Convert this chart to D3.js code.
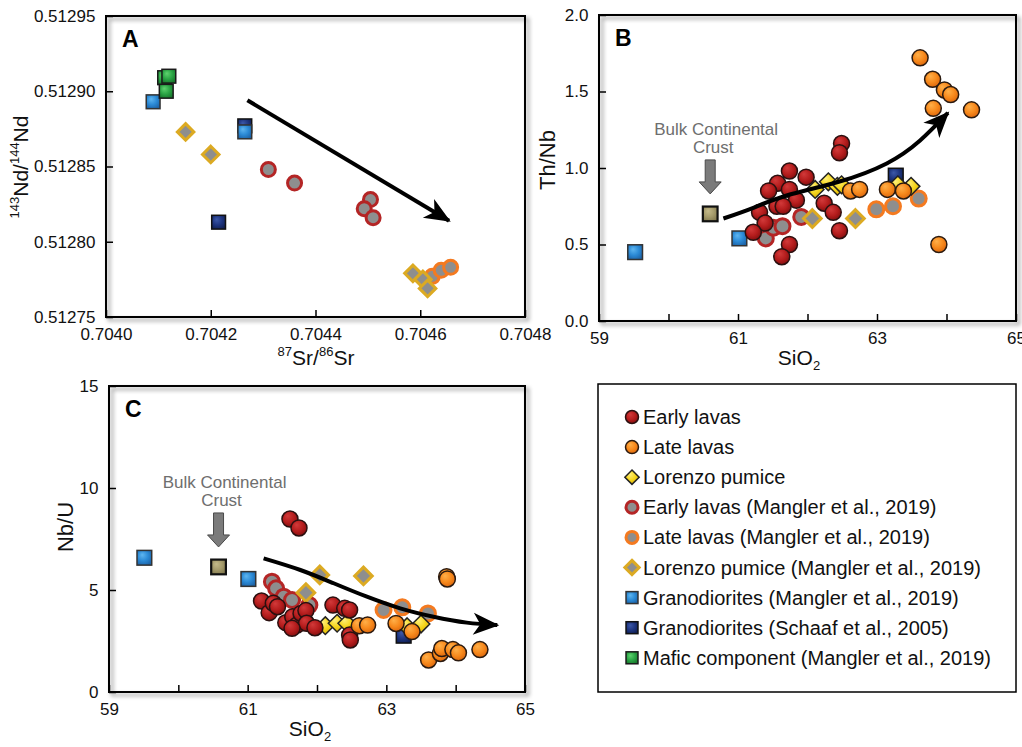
<!DOCTYPE html>
<html>
<head>
<meta charset="utf-8">
<script src="https://cdn.jsdelivr.net/npm/d3@7.9.0/dist/d3.min.js"></script>
<style>
  body { margin: 0; background: #fff; }
  svg { font-family: "Liberation Sans", Arial, sans-serif; }
</style>
</head>
<body>
<svg id="chart" width="1022" height="747"></svg>
<script>
// ---- panel A: 87Sr/86Sr vs 143Nd/144Nd ----
const aEarlyM = [[0.70431, 0.512848], [0.70436, 0.512839], [0.704505, 0.512828], [0.704493, 0.512822], [0.70451, 0.512816]];
const aLateM = [[0.704623, 0.512777], [0.70464, 0.512781], [0.704658, 0.512783]];
const aLorenzoM = [[0.704152, 0.512873], [0.7042, 0.512858], [0.704586, 0.512779], [0.704605, 0.512775], [0.704614, 0.512769]];
const aGranoM = [[0.70409, 0.512893], [0.704265, 0.512873]];
const aGranoS = [[0.704265, 0.512877], [0.704215, 0.512813]];
const aMafic = [[0.704112, 0.512909], [0.70412, 0.51291], [0.704115, 0.5129]];
const aArrow = [[0.70427, 0.512894], [0.704655, 0.512814]];
const aXTicks = [0.7040, 0.7042, 0.7044, 0.7046, 0.7048];
const aYTicks = [0.51275, 0.51280, 0.51285, 0.51290, 0.51295];

// ---- panel B: SiO2 vs Th/Nb ----
const bEarly = [[61.74, 0.98], [61.98, 0.94], [61.57, 0.90], [61.44, 0.85], [61.74, 0.86], [61.84, 0.79],
  [61.56, 0.75], [61.65, 0.75], [61.31, 0.71], [61.39, 0.64], [61.22, 0.58], [61.74, 0.50], [61.63, 0.42],
  [62.24, 0.77], [62.37, 0.71], [62.46, 0.59], [62.49, 1.16], [62.46, 1.10]];
const bLate = [[63.62, 1.72], [63.80, 1.58], [63.97, 1.51], [64.06, 1.48], [63.81, 1.39], [64.36, 1.38],
  [63.89, 0.50], [62.62, 0.85], [62.75, 0.86], [63.15, 0.86], [63.38, 0.85]];
const bLorenzo = [[62.11, 0.86], [62.30, 0.91], [62.43, 0.88], [62.49, 0.89], [63.30, 0.89], [63.49, 0.88]];
const bEarlyM = [[61.39, 0.57], [61.40, 0.54], [61.51, 0.61], [61.64, 0.62], [61.91, 0.68]];
const bLateM = [[62.99, 0.73], [63.23, 0.75], [63.60, 0.80]];
const bLorenzoM = [[62.07, 0.67], [62.69, 0.67]];
const bGranoM = [[59.52, 0.45], [61.02, 0.54]];
const bGranoS = [[63.27, 0.95]];
const bCrust = [[60.60, 0.70]];
const bArrow = [[60.79, 0.67], [61.22, 0.74], [61.70, 0.82], [62.45, 0.91], [63.14, 1.03], [63.62, 1.18], [64.02, 1.36]];
const bXTicks = [59, 60, 61, 62, 63, 64, 65];
const bXLabels = [59, 61, 63, 65];
const bYTicks = [0.0, 0.5, 1.0, 1.5, 2.0];

// ---- panel C: SiO2 vs Nb/U ----
const cEarly = [[61.61, 8.48], [61.74, 8.04], [61.20, 4.46], [61.31, 3.89], [61.37, 4.35], [61.43, 4.18],
  [61.55, 3.40], [61.65, 3.69], [61.71, 3.28], [61.77, 3.85], [61.84, 3.99], [61.85, 3.37], [61.97, 3.15],
  [62.23, 4.26], [62.40, 4.10], [62.47, 4.02], [62.47, 2.79], [62.48, 2.55], [61.64, 3.12]];
const cLate = [[63.87, 5.65], [63.88, 5.54], [62.61, 3.25], [62.73, 3.28], [63.14, 3.36], [63.37, 2.96],
  [63.61, 1.57], [63.78, 1.89], [63.80, 2.13], [63.96, 2.08], [64.04, 1.92], [64.35, 2.08]];
const cLorenzo = [[62.12, 3.25], [62.29, 3.37], [62.43, 3.37], [63.30, 3.20], [63.50, 3.33]];
const cEarlyM = [[61.35, 5.41], [61.41, 5.08], [61.52, 4.67], [61.64, 4.51], [61.89, 4.26]];
const cLateM = [[62.96, 4.02], [63.23, 4.15], [63.60, 3.85]];
const cLorenzoM = [[62.04, 5.74], [62.67, 5.69], [61.84, 4.87]];
const cGranoM = [[59.51, 6.58], [61.01, 5.54]];
const cGranoS = [[63.25, 2.76]];
const cCrust = [[60.58, 6.13]];
const cArrow = [[61.23, 6.55], [61.76, 5.98], [62.24, 5.33], [62.72, 4.67], [63.20, 4.10], [63.68, 3.69], [64.16, 3.40], [64.6, 3.28]];
const cXTicks = [59, 60, 61, 62, 63, 64, 65];
const cXLabels = [59, 61, 63, 65];
const cYTicks = [0, 5, 10, 15];

// ---- legend ----
const legendLabels = ['Early lavas', 'Late lavas', 'Lorenzo pumice', 'Early lavas (Mangler et al., 2019)',
  'Late lavas (Mangler et al., 2019)', 'Lorenzo pumice (Mangler et al., 2019)',
  'Granodiorites (Mangler et al., 2019)', 'Granodiorites (Schaaf et al., 2005)',
  'Mafic component (Mangler et al., 2019)'];
const legendKeys = ['early', 'late', 'lorenzo', 'earlyM', 'lateM', 'lorenzoM', 'granoM', 'granoS', 'mafic'];

const svg = d3.select('#chart');
const defs = svg.append('defs');

function radial(id, light, mid, dark) {
  const g = defs.append('radialGradient').attr('id', id)
    .attr('cx', '45%').attr('cy', '40%').attr('r', '65%').attr('fx', '35%').attr('fy', '30%');
  g.append('stop').attr('offset', '0%').attr('stop-color', light);
  g.append('stop').attr('offset', '55%').attr('stop-color', mid);
  g.append('stop').attr('offset', '100%').attr('stop-color', dark);
}
radial('gEarly', '#d23a3a', '#b51d1d', '#7d0d0d');
radial('gLate', '#ffb04a', '#f7891c', '#d9630c');
radial('gLorenzo', '#fff07a', '#f5d41a', '#d6ac06');
radial('gGranoM', '#5fb6f0', '#2b8ad6', '#1d64a8');
radial('gGranoS', '#3c58a8', '#1e3580', '#101f52');
radial('gMafic', '#5fd26f', '#2ba545', '#17772c');
radial('gCrust', '#c4ba8a', '#a59b6b', '#837a4f');

const shadow = defs.append('filter').attr('id', 'shadow')
  .attr('x', '-5%').attr('y', '-5%').attr('width', '115%').attr('height', '115%');
shadow.append('feDropShadow').attr('dx', 3).attr('dy', 3).attr('stdDeviation', 2)
  .attr('flood-color', '#000').attr('flood-opacity', 0.45);

const head = defs.append('marker').attr('id', 'head')
  .attr('markerUnits', 'userSpaceOnUse').attr('markerWidth', 30).attr('markerHeight', 30)
  .attr('viewBox', '-26 -13 30 26').attr('refX', 0).attr('refY', 0).attr('orient', 'auto');
head.append('path').attr('d', 'M2,0 L-24,-11 L-17,0 L-24,11 Z').attr('fill', '#000');

const styles = {
  early: { shape: 'circle', fill: 'url(#gEarly)', stroke: '#2a1010', sw: 1.5 },
  late: { shape: 'circle', fill: 'url(#gLate)', stroke: '#2a1a10', sw: 1.5 },
  lorenzo: { shape: 'diamond', fill: 'url(#gLorenzo)', stroke: '#222', sw: 1.5 },
  earlyM: { shape: 'circle', fill: '#8e8e8e', stroke: '#b42525', sw: 3 },
  lateM: { shape: 'circle', fill: '#8e8e8e', stroke: '#f47a20', sw: 3 },
  lorenzoM: { shape: 'diamond', fill: '#8e8e8e', stroke: '#dcaa22', sw: 3 },
  granoM: { shape: 'square', fill: 'url(#gGranoM)', stroke: '#333', sw: 1.5 },
  granoS: { shape: 'square', fill: 'url(#gGranoS)', stroke: '#111', sw: 1.5 },
  mafic: { shape: 'square', fill: 'url(#gMafic)', stroke: '#1a1a1a', sw: 1.5 },
  crust: { shape: 'square', fill: 'url(#gCrust)', stroke: '#111', sw: 2.2 }
};

function drawMark(g, cx, cy, key, size) {
  const s = styles[key];
  let el;
  if (s.shape === 'circle') {
    el = g.append('circle').attr('cx', cx).attr('cy', cy).attr('r', size / 2 - (s.sw > 2 ? 0.5 : 0));
  } else if (s.shape === 'square') {
    const w = size * 0.92;
    el = g.append('rect').attr('x', cx - w / 2).attr('y', cy - w / 2).attr('width', w).attr('height', w);
  } else {
    const h = size * 0.55;
    el = g.append('path').attr('d', `M${cx},${cy - h} L${cx + h},${cy} L${cx},${cy + h} L${cx - h},${cy} Z`);
  }
  el.attr('fill', s.fill).attr('stroke', s.stroke).attr('stroke-width', s.sw);
}

function supText(g, x, y, parts, size, anchor, rotate) {
  const t = g.append('text').attr('x', x).attr('y', y).attr('font-size', size)
    .attr('text-anchor', anchor).attr('fill', '#111');
  if (rotate) t.attr('transform', `rotate(-90,${x},${y})`);
  parts.forEach(([txt, kind]) => {
    const sp = t.append('tspan').text(txt);
    if (kind === 'sup') sp.attr('font-size', size * 0.62).attr('dy', -size * 0.42);
    else if (kind === 'sub') sp.attr('font-size', size * 0.62).attr('dy', size * 0.25);
    else if (kind === 'up') sp.attr('dy', size * 0.42);
    else if (kind === 'down') sp.attr('dy', -size * 0.25);
  });
  return t;
}

function panel(cfg) {
  const x = d3.scaleLinear().domain(cfg.xDomain).range([cfg.left, cfg.right]);
  const y = d3.scaleLinear().domain(cfg.yDomain).range([cfg.bottom, cfg.top]);
  const g = svg.append('g');

  g.append('rect').attr('x', cfg.left).attr('y', cfg.top)
    .attr('width', cfg.right - cfg.left).attr('height', cfg.bottom - cfg.top)
    .attr('fill', 'none').attr('stroke', '#000').attr('stroke-width', 2).attr('filter', 'url(#shadow)');

  const xAxis = d3.axisBottom(x).tickValues(cfg.xTicks).tickSize(-7)
    .tickFormat(d => cfg.xLabels.includes(d) ? cfg.xFmt(d) : '');
  const gx = g.append('g').attr('transform', `translate(0,${cfg.bottom})`).call(xAxis);
  const yAxis = d3.axisLeft(y).tickValues(cfg.yTicks).tickSize(-7).tickFormat(cfg.yFmt);
  const gy = g.append('g').attr('transform', `translate(${cfg.left},0)`).call(yAxis);
  [gx, gy].forEach(a => {
    a.select('.domain').remove();
    a.selectAll('line').attr('stroke', '#000').attr('stroke-width', 1.5);
    a.selectAll('text').attr('font-size', 17).attr('fill', '#111').attr('font-family', '"Liberation Sans", Arial, sans-serif');
  });
  gx.selectAll('text').attr('dy', '1.15em');
  gy.selectAll('text').attr('dx', '-0.45em');

  g.append('text').attr('x', cfg.left + 16).attr('y', cfg.top + 31).text(cfg.letter)
    .attr('font-size', 23).attr('font-weight', 'bold').attr('fill', '#000');

  const marks = g.append('g');
  cfg.series.forEach(([key, data]) => {
    data.forEach(d => drawMark(marks, x(d[0]), y(d[1]), key, cfg.markSize));
  });

  const line = d3.line().x(d => x(d[0])).y(d => y(d[1]))
    .curve(cfg.arrow.length > 2 ? d3.curveNatural : d3.curveLinear);
  g.append('path').attr('d', line(cfg.arrow)).attr('fill', 'none')
    .attr('stroke', '#000').attr('stroke-width', 4).attr('marker-end', 'url(#head)');

  if (cfg.crust) {
    const cx = x(cfg.crust[0][0]), cy = y(cfg.crust[0][1]);
    const lab = g.append('text').attr('fill', '#6e6e6e').attr('font-size', 17).attr('text-anchor', 'middle');
    lab.append('tspan').attr('x', cx + 6).attr('y', cy - 79).text('Bulk Continental');
    lab.append('tspan').attr('x', cx + 3).attr('y', cy - 61).text('Crust');
    const t = cy - 54, b = cy - 20;
    g.append('path')
      .attr('d', `M${cx - 5},${t} L${cx + 5},${t} L${cx + 5},${b - 12} L${cx + 11},${b - 12} L${cx},${b} L${cx - 11},${b - 12} L${cx - 5},${b - 12} Z`)
      .attr('fill', '#7b7b7b').attr('stroke', '#4a4a4a').attr('stroke-width', 1);
  }
  return g;
}

const fmtA = d3.format('.4f');
panel({
  left: 106, right: 525, top: 16, bottom: 317, letter: 'A',
  xDomain: [0.7040, 0.7048], yDomain: [0.51275, 0.51295],
  xTicks: aXTicks, xLabels: aXTicks, yTicks: aYTicks,
  xFmt: fmtA, yFmt: d3.format('.5f'), markSize: 15,
  series: [['earlyM', aEarlyM], ['lateM', aLateM], ['lorenzoM', aLorenzoM], ['granoS', aGranoS],
    ['granoM', aGranoM], ['mafic', aMafic]],
  arrow: aArrow
});
panel({
  left: 599, right: 1016, top: 15, bottom: 321, letter: 'B',
  xDomain: [59, 65], yDomain: [0, 2],
  xTicks: bXTicks, xLabels: bXLabels, yTicks: bYTicks,
  xFmt: d3.format('d'), yFmt: d3.format('.1f'), markSize: 16,
  series: [['earlyM', bEarlyM], ['lateM', bLateM], ['lorenzoM', bLorenzoM], ['granoM', bGranoM],
    ['granoS', bGranoS], ['crust', bCrust], ['lorenzo', bLorenzo], ['early', bEarly], ['late', bLate]],
  arrow: bArrow, crust: bCrust
});
panel({
  left: 109, right: 525, top: 386, bottom: 692, letter: 'C',
  xDomain: [59, 65], yDomain: [0, 15],
  xTicks: cXTicks, xLabels: cXLabels, yTicks: cYTicks,
  xFmt: d3.format('d'), yFmt: d3.format('d'), markSize: 16,
  series: [['earlyM', cEarlyM], ['lateM', cLateM], ['lorenzoM', cLorenzoM], ['granoM', cGranoM],
    ['granoS', cGranoS], ['crust', cCrust], ['lorenzo', cLorenzo], ['early', cEarly], ['late', cLate]],
  arrow: cArrow, crust: cCrust
});

// axis titles
const titles = svg.append('g');
supText(titles, 28, 167, [['143', 'sup'], ['Nd/', 'up'], ['144', 'sup'], ['Nd', 'up']], 21, 'middle', true);
supText(titles, 316, 365, [['87', 'sup'], ['Sr/', 'up'], ['86', 'sup'], ['Sr', 'up']], 21, 'middle', false);
supText(titles, 555, 160, [['Th/Nb', '']], 22, 'middle', true);
supText(titles, 799, 365, [['SiO', ''], ['2', 'sub']], 21, 'middle', false);
supText(titles, 73, 527, [['Nb/U', '']], 22, 'middle', true);
supText(titles, 310, 736, [['SiO', ''], ['2', 'sub']], 21, 'middle', false);

// legend
const leg = svg.append('g');
leg.append('rect').attr('x', 598).attr('y', 384).attr('width', 418).attr('height', 308)
  .attr('fill', '#fff').attr('stroke', '#000').attr('stroke-width', 1.5);
legendLabels.forEach((lab, i) => {
  const yy = 417 + i * 30.1;
  drawMark(leg, 632, yy, legendKeys[i], 13);
  leg.append('text').attr('x', 643).attr('y', yy).attr('dy', '0.35em')
    .attr('font-size', 20).attr('fill', '#111').text(lab);
});
</script>
</body>
</html>
